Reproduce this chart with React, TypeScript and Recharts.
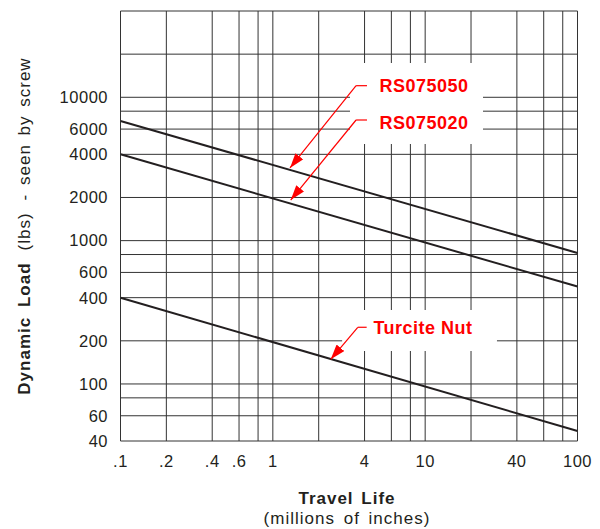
import React from 'react';
import {
  LineChart, Line, XAxis, YAxis, CartesianGrid, ReferenceArea, ReferenceLine, ReferenceDot,
} from 'recharts';

// ---- data ----
const travelLife = [0.1, 100];
const rs075050 = [6840, 820];
const rs075020 = [4000, 478];
const turciteNut = [400, 47];

const xGridValues = [0.1, 0.2, 0.4, 0.6, 0.8, 1, 2, 4, 6, 8, 10, 20, 40, 60, 80, 100];
const yGridValues = [40, 60, 80, 100, 200, 400, 600, 800, 1000, 2000, 4000, 6000, 8000, 10000, 20000, 40000];
const xTickLabels: Record<string, string> = { '0.1': '.1', '0.2': '.2', '0.4': '.4', '0.6': '.6', '1': '1', '4': '4', '10': '10', '40': '40', '100': '100' };
const yTickLabels = [40, 60, 100, 200, 400, 600, 1000, 2000, 4000, 6000, 10000];

const seriesNames = ['RS075050', 'RS075020', 'Turcite Nut'];

const data = travelLife.map((x, i) => ({
  x,
  rs50: rs075050[i],
  rs20: rs075020[i],
  turc: turciteNut[i],
}));

const RED = '#ff0000';
const INK = '#231f20';

const arrowShape = (p: any) => (
  <line x1={p.x1} y1={p.y1} x2={p.x2} y2={p.y2} stroke={RED} strokeWidth={1.2} markerEnd="url(#arrowRed)" />
);
const plainShape = (p: any) => (
  <line x1={p.x1} y1={p.y1} x2={p.x2} y2={p.y2} stroke={RED} strokeWidth={1.2} />
);

const redLabel = (text: string) => ({
  value: text,
  position: 'center' as const,
  fill: RED,
  fontSize: 18,
  fontWeight: 'bold',
  letterSpacing: 0.5,
  fontFamily: 'Liberation Sans, Arial, sans-serif',
});

const XTitle = (props: any) => {
  const vb = props.viewBox || {};
  const cx = vb.x + vb.width / 2 - 2;
  return (
    <g fontFamily="Liberation Sans, Arial, sans-serif" fill={INK}>
      <text x={cx} y={vb.y + 63} textAnchor="middle" fontSize={17} fontWeight="bold" letterSpacing={1} wordSpacing={2}>Travel Life</text>
      <text x={cx} y={vb.y + 83} textAnchor="middle" fontSize={17} letterSpacing={1} wordSpacing={3}>(millions of inches)</text>
    </g>
  );
};

const YTitle = (props: any) => {
  const vb = props.viewBox || {};
  const x = 21.5;
  const y = 218;
  return (
    <text
      x={x}
      y={y}
      transform={`rotate(-90 ${x} ${y})`}
      textAnchor="middle"
      fontFamily="Liberation Sans, Arial, sans-serif"
      fontSize={17}
      letterSpacing={1}
      fill={INK}
    >
      <tspan fontWeight="bold" wordSpacing={4}>Dynamic Load</tspan>
      <tspan dx={12}>(lbs)</tspan>
      <tspan dx={12} wordSpacing={3}>- seen by screw</tspan>
    </text>
  );
};

export default function App() {
  return (
    <div style={{ position: 'relative' }}>
      <svg width={0} height={0} style={{ position: 'absolute' }}>
        <defs>
          <marker id="arrowRed" markerUnits="userSpaceOnUse" markerWidth={16} markerHeight={12} refX={15} refY={5} orient="auto">
            <path d="M0,0 L15,5 L0,10 z" fill={RED} />
          </marker>
        </defs>
      </svg>
      <LineChart width={592} height={521} data={data} margin={{ top: 3, right: 22.5, bottom: 0, left: 0 }}>
        <CartesianGrid stroke="#333" strokeWidth={1} />
        <XAxis
          dataKey="x"
          type="number"
          scale="log"
          domain={[0.1, 100]}
          allowDataOverflow
          ticks={xGridValues}
          interval={0}
          tickFormatter={(v: number) => xTickLabels[String(v)] ?? ''}
          tickLine={false}
          axisLine={false}
          tickSize={0}
          tickMargin={14}
          height={88}
          tick={{ fill: INK, fontSize: 16.5, letterSpacing: 0.5, fontFamily: 'Liberation Sans, Arial, sans-serif' }}
          label={<XTitle />}
        />
        <YAxis
          type="number"
          scale="log"
          domain={[40, 40000]}
          allowDataOverflow
          ticks={yGridValues}
          interval={0}
          tickFormatter={(v: number) => (yTickLabels.includes(v) ? String(v) : '')}
          tickLine={false}
          axisLine={false}
          tickSize={0}
          tickMargin={12.5}
          width={112.5}
          tick={{ fill: INK, fontSize: 16.5, letterSpacing: 0.5, fontFamily: 'Liberation Sans, Arial, sans-serif' }}
          label={<YTitle />}
        />
        {/* white label boxes */}
        <ReferenceArea x1={3.21} x2={23.97} y1={4724} y2={17345} fill="#ffffff" fillOpacity={1} stroke="none" />
        <ReferenceArea x1={2.85} x2={29.6} y1={169.8} y2={328} fill="#ffffff" fillOpacity={1} stroke="none" />

        <Line dataKey="rs50" name={seriesNames[0]} stroke={INK} strokeWidth={2} dot={false} isAnimationActive={false} />
        <Line dataKey="rs20" name={seriesNames[1]} stroke={INK} strokeWidth={2} dot={false} isAnimationActive={false} />
        <Line dataKey="turc" name={seriesNames[2]} stroke={INK} strokeWidth={2} dot={false} isAnimationActive={false} />

        {/* leaders */}
        <ReferenceLine segment={[{ x: 4.15, y: 12050 }, { x: 3.52, y: 12050 }]} shape={plainShape} />
        <ReferenceLine segment={[{ x: 3.52, y: 12050 }, { x: 1.296, y: 3212 }]} shape={arrowShape} />
        <ReferenceLine segment={[{ x: 4.15, y: 6944 }, { x: 3.52, y: 6944 }]} shape={plainShape} />
        <ReferenceLine segment={[{ x: 3.52, y: 6944 }, { x: 1.31, y: 1920 }]} shape={arrowShape} />
        <ReferenceLine segment={[{ x: 4.13, y: 248.6 }, { x: 3.61, y: 248.6 }]} shape={plainShape} />
        <ReferenceLine segment={[{ x: 3.61, y: 248.6 }, { x: 2.4, y: 148.6 }]} shape={arrowShape} />

        {/* labels */}
        <ReferenceDot x={9.83} y={12050} r={0} fill="none" stroke="none" label={redLabel(seriesNames[0])} />
        <ReferenceDot x={9.83} y={6620} r={0} fill="none" stroke="none" label={redLabel(seriesNames[1])} />
        <ReferenceDot x={9.68} y={248.6} r={0} fill="none" stroke="none" label={redLabel(seriesNames[2])} />
      </LineChart>
    </div>
  );
}
